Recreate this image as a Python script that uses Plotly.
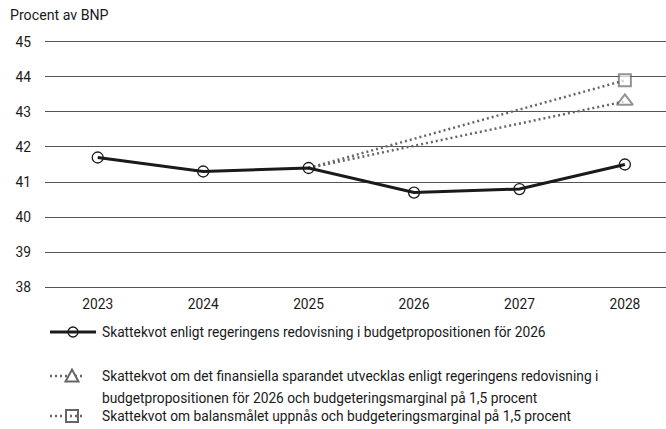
import plotly.graph_objects as go

# Tax ratio as percent of GDP
years = ["2023", "2024", "2025", "2026", "2027", "2028"]
skattekvot = [41.7, 41.3, 41.4, 40.7, 40.8, 41.5]

# Alternative paths from 2025 to 2028
alt_years = ["2025", "2028"]
skattekvot_fin_sparande = [41.4, 43.3]
skattekvot_balansmal = [41.4, 43.9]

y_ticks = [38, 39, 40, 41, 42, 43, 44, 45]

legend_labels = [
    "Skattekvot enligt regeringens redovisning i budgetpropositionen för 2026",
    "Skattekvot om det finansiella sparandet utvecklas enligt regeringens redovisning i",
    "budgetpropositionen för 2026 och budgeteringsmarginal på 1,5 procent",
    "Skattekvot om balansmålet uppnås och budgeteringsmarginal på 1,5 procent",
]

FONT = "Roboto"
FS = 13.75
TEXT = "#1a1a1a"
GRAY = "#666666"
W, H = 666, 429
L, R, T, B = 45, 0, 40, 140
PW, PH = W - L - R, H - T - B


def px_x(p):
    return (p - L) / PW


def px_y(p):
    return (H - B - p) / PH


fig = go.Figure()

fig.add_trace(go.Scatter(
    x=alt_years, y=skattekvot_balansmal, mode="lines+markers",
    line=dict(color=GRAY, width=2.5, dash="2px,3px"),
    marker=dict(symbol="square", size=[0, 12], color="white",
                line=dict(color=GRAY, width=2)),
    showlegend=False, hoverinfo="skip",
))
fig.add_trace(go.Scatter(
    x=alt_years, y=skattekvot_fin_sparande, mode="lines+markers",
    line=dict(color=GRAY, width=2.5, dash="2px,3px"),
    marker=dict(symbol="triangle-up", size=[0, 14], color="white",
                line=dict(color=GRAY, width=2)),
    showlegend=False, hoverinfo="skip",
))
fig.add_trace(go.Scatter(
    x=years, y=skattekvot, mode="lines+markers",
    line=dict(color=TEXT, width=3),
    marker=dict(symbol="circle-open", size=11, color=TEXT,
                line=dict(color=TEXT, width=1.3)),
    showlegend=False,
))

# Legend drawn below the plot
shapes = []
annotations = []

# Item 1: solid line with open circle
y1 = 332
shapes.append(dict(type="line", xref="paper", yref="paper",
                   x0=px_x(50), x1=px_x(96), y0=px_y(y1), y1=px_y(y1),
                   line=dict(color=TEXT, width=3)))
shapes.append(dict(type="circle", xref="paper", yref="paper",
                   x0=px_x(68), x1=px_x(78), y0=px_y(y1 + 5), y1=px_y(y1 - 5),
                   line=dict(color=TEXT, width=1.3)))

# Item 2: dotted line with triangle
y2 = 376
shapes.append(dict(type="line", xref="paper", yref="paper",
                   x0=px_x(50), x1=px_x(84), y0=px_y(y2), y1=px_y(y2),
                   line=dict(color=GRAY, width=2.5, dash="2px,3px")))
tri = (f"M {px_x(65.5)} {px_y(y2 + 5.5)} L {px_x(78.5)} {px_y(y2 + 5.5)} "
       f"L {px_x(72)} {px_y(y2 - 6.5)} Z")
shapes.append(dict(type="path", xref="paper", yref="paper", path=tri,
                   fillcolor="white", line=dict(color=GRAY, width=2)))

# Item 3: dotted line with square
y3 = 416
shapes.append(dict(type="line", xref="paper", yref="paper",
                   x0=px_x(50), x1=px_x(84), y0=px_y(y3), y1=px_y(y3),
                   line=dict(color=GRAY, width=2.5, dash="2px,3px")))
shapes.append(dict(type="rect", xref="paper", yref="paper",
                   x0=px_x(66), x1=px_x(78), y0=px_y(y3 + 6), y1=px_y(y3 - 6),
                   fillcolor="rgba(255,255,255,0)", line=dict(color=GRAY, width=2)))

for text, ypix in zip(legend_labels, [y1, y2, 398, y3]):
    annotations.append(dict(
        text=text, xref="paper", yref="paper", x=px_x(100), y=px_y(ypix),
        xanchor="left", yanchor="middle", showarrow=False,
        font=dict(family=FONT, size=FS, color=TEXT),
    ))

annotations.append(dict(
    text="Procent av BNP", xref="paper", yref="paper",
    x=px_x(8), y=px_y(15), xanchor="left", yanchor="middle", showarrow=False,
    font=dict(family=FONT, size=14.2, color=TEXT),
))

fig.update_layout(
    width=W, height=H,
    margin=dict(l=L, r=R, t=T, b=B, pad=0),
    paper_bgcolor="white", plot_bgcolor="white",
    font=dict(family=FONT, size=FS, color=TEXT),
    shapes=shapes, annotations=annotations,
    showlegend=False,
    xaxis=dict(
        type="category", categoryorder="array", categoryarray=years,
        range=[-0.5, 5.39], showgrid=False, zeroline=False, showline=False,
        ticks="", ticklabelstandoff=5, tickfont=dict(size=FS, color=TEXT),
        fixedrange=True,
    ),
    yaxis=dict(
        range=[37.95, 45.05], tickvals=y_ticks, showgrid=True,
        gridcolor="#555555", gridwidth=1, zeroline=False, showline=False,
        ticks="", ticklabelstandoff=13, tickfont=dict(size=FS, color=TEXT),
        fixedrange=True,
    ),
)

fig.write_html("out.html")
